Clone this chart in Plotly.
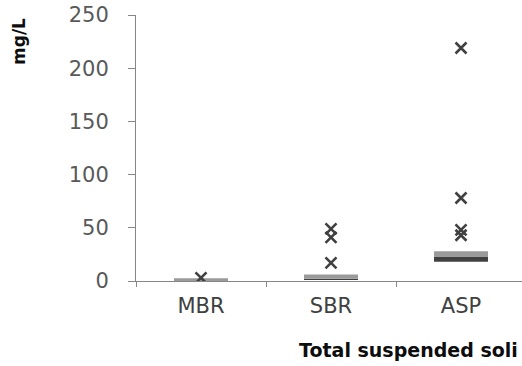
import plotly.graph_objects as go

categories = ["MBR", "SBR", "ASP"]
q1 = [0.0, 1.0, 18.0]
median = [0.5, 2.0, 23.0]
q3 = [2.5, 6.0, 28.0]
outlier_cat = ["MBR", "SBR", "SBR", "SBR", "ASP", "ASP", "ASP", "ASP"]
outlier_val = [3, 49, 41, 17, 219, 78, 48, 43]
y_ticks = [0, 50, 100, 150, 200, 250]

FONT = "DejaVu Sans"
W, H = 522, 366
L, T = 136, 15
PW, PH = W - L, 266

fig = go.Figure()
fig.add_trace(go.Bar(
    x=categories, y=[m - a for m, a in zip(median, q1)], base=q1,
    width=0.415, marker=dict(color="#404040", line=dict(width=0)),
    hoverinfo="skip", showlegend=False))
fig.add_trace(go.Bar(
    x=categories, y=[b - m for b, m in zip(q3, median)], base=median,
    width=0.415, marker=dict(color="#9a9a9a", line=dict(width=0)),
    hoverinfo="skip", showlegend=False))
fig.add_trace(go.Scatter(
    x=outlier_cat, y=outlier_val, mode="markers",
    marker=dict(symbol="x-thin", size=11, line=dict(width=2.6, color="#404040")),
    hoverinfo="skip", showlegend=False))

fig.update_layout(
    width=W, height=H,
    margin=dict(l=L, r=0, t=T, b=H - T - PH, pad=0, autoexpand=False),
    paper_bgcolor="white", plot_bgcolor="white",
    barmode="overlay", hovermode=False,
    font=dict(family=FONT, size=19, color="#595959"),
    xaxis=dict(
        type="category", categoryorder="array", categoryarray=categories,
        range=[-0.5, -0.5 + PW / 130.0],
        showgrid=False, zeroline=False, automargin=False,
        showline=True, linecolor="#868686", linewidth=1,
        ticks="outside", ticklen=5, tickcolor="#868686", tickson="boundaries",
        tickfont=dict(family=FONT, size=21, color="#404040"),
        ticklabelstandoff=6,
    ),
    yaxis=dict(
        range=[0, 250], tickvals=y_ticks,
        showgrid=False, zeroline=False, automargin=False,
        showline=True, linecolor="#868686", linewidth=1,
        ticks="outside", ticklen=7, tickcolor="#868686",
        tickfont=dict(family=FONT, size=21, color="#595959"),
        ticklabelstandoff=15, ticklabeloverflow="allow",
    ),
    annotations=[
        dict(text="<b>mg/L</b>", textangle=-90, xref="paper", yref="paper",
             x=(19 - L) / PW, y=(T + PH - 41) / PH,
             xanchor="center", yanchor="middle",
             showarrow=False, font=dict(family=FONT, size=17, color="#0d0d0d")),
        dict(text="<b>Total suspended soli</b>", xref="paper", yref="paper",
             x=(297 - L) / PW, y=(T + PH - 350) / PH,
             xanchor="left", yanchor="middle",
             showarrow=False, font=dict(family=FONT, size=19, color="#0d0d0d")),
    ],
)

fig.write_html("out.html",
               config={"displayModeBar": False, "staticPlot": True},
               post_script="document.body.style.margin='0';document.body.style.overflow='hidden';")
